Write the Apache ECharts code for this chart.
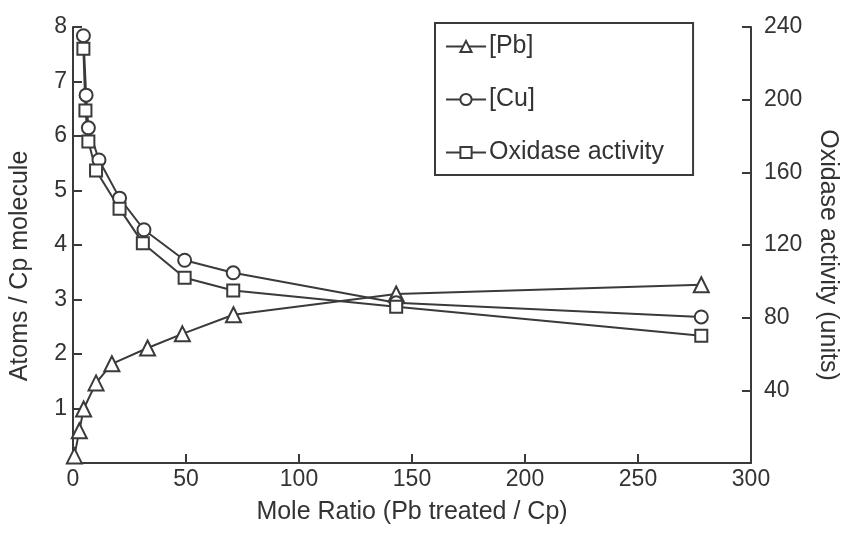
<!DOCTYPE html>
<html>
<head>
<meta charset="utf-8">
<script src="https://cdn.jsdelivr.net/npm/echarts@6/dist/echarts.min.js"></script>
<style>html,body{margin:0;padding:0;background:#fff}#c{width:858px;height:547px}</style>
</head>
<body>
<div id="c"></div>
<script>
// Data
const pbX = [0.6, 2.8, 4.7, 10.2, 17.2, 33, 48.4, 71, 143, 278];
const pbY = [0.13, 0.59, 0.99, 1.47, 1.82, 2.11, 2.37, 2.72, 3.1, 3.27];
const cuX = [4.6, 5.8, 6.8, 11.5, 20.6, 31.4, 49.4, 70.9, 143, 278];
const cuY = [7.84, 6.75, 6.15, 5.56, 4.86, 4.28, 3.72, 3.49, 2.94, 2.68];
const oxX = [4.6, 5.5, 6.8, 10.2, 20.6, 30.9, 49.4, 70.9, 143, 278];
const oxY = [228, 194, 177, 161, 140, 121, 102, 95, 86, 70];
const seriesNames = ['[Pb]', '[Cu]', 'Oxidase activity'];
const xTitle = 'Mole Ratio (Pb treated / Cp)';
const yLeftTitle = 'Atoms / Cp molecule';
const yRightTitle = 'Oxidase activity (units)';

const ink = '#3a3a3a';
const font = 'Liberation Sans, Arial, sans-serif';
const pairs = (xs, ys) => xs.map((x, i) => [x, ys[i]]);

const chart = echarts.init(document.getElementById('c'), null, {renderer: 'canvas'});
const axisCommon = {
  axisLine: {show: true, lineStyle: {color: ink, width: 2}},
  axisTick: {show: true, inside: true, length: 9, lineStyle: {color: ink, width: 2}},
  splitLine: {show: false},
  axisLabel: {color: '#333', fontFamily: font, fontSize: 23},
  nameTextStyle: {color: '#333', fontFamily: font, fontSize: 25}
};
const mkSeries = (name, data, symbol, size, yIdx) => ({
  name, type: 'line', data, yAxisIndex: yIdx,
  symbol, symbolSize: size, showSymbol: true,
  lineStyle: {color: ink, width: 2},
  itemStyle: {color: '#fff', borderColor: ink, borderWidth: 2},
  emphasis: {disabled: true},
  z: 3
});

chart.setOption({
  animation: false,
  backgroundColor: '#fff',
  grid: {left: 72, right: 107, top: 27, bottom: 84},
  legend: {
    orient: 'vertical', left: 435, top: 23,
    padding: [11, 29, 10, 10], itemGap: 28,
    itemWidth: 40, itemHeight: 14,
    borderColor: ink, borderWidth: 2,
    textStyle: {color: '#333', fontFamily: font, fontSize: 25, padding: [0, 0, 0, -2]},
    data: seriesNames
  },
  xAxis: Object.assign({}, axisCommon, {
    type: 'value', min: 0, max: 300, interval: 50,
    name: xTitle, nameLocation: 'middle', nameGap: 37,
    axisLabel: Object.assign({}, axisCommon.axisLabel, {margin: 5})
  }),
  yAxis: [
    Object.assign({}, axisCommon, {
      type: 'value', min: 0, max: 8, interval: 1, position: 'left',
      name: yLeftTitle, nameLocation: 'middle', nameGap: 40,
      nameTextStyle: Object.assign({}, axisCommon.nameTextStyle, {fontSize: 25, padding: [0, 42, 0, 0]}),
      axisLabel: Object.assign({}, axisCommon.axisLabel, {margin: 6, formatter: v => v === 0 ? '' : String(v)})
    }),
    Object.assign({}, axisCommon, {
      type: 'value', min: 0, max: 240, interval: 40, position: 'right',
      name: yRightTitle, nameLocation: 'middle', nameGap: 64, nameRotate: -90,
      nameTextStyle: Object.assign({}, axisCommon.nameTextStyle, {padding: [0, 0, 0, 20]}),
      axisLabel: Object.assign({}, axisCommon.axisLabel, {margin: 13, formatter: v => v === 0 ? '' : String(v)})
    })
  ],
  series: [
    mkSeries(seriesNames[0], pairs(pbX, pbY), 'triangle', 15, 0),
    mkSeries(seriesNames[1], pairs(cuX, cuY), 'circle', 13, 0),
    mkSeries(seriesNames[2], pairs(oxX, oxY), 'rect', 12, 1)
  ]
});
</script>
</body>
</html>
